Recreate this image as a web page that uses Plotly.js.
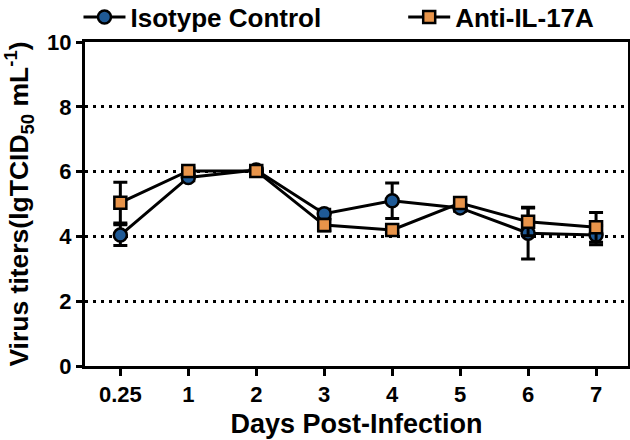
<!DOCTYPE html>
<html>
<head>
<meta charset="utf-8">
<script src="https://cdn.plot.ly/plotly-3.0.1.min.js"></script>
<style>html,body{margin:0;padding:0;background:#fff}#chart{width:630px;height:440px}</style>
</head>
<body>
<div id="chart"></div>
<script>
const days = ["0.25", "1", "2", "3", "4", "5", "6", "7"];
const isotypeMean = [4.04, 5.82, 6.05, 4.70, 5.10, 4.88, 4.10, 4.04];
const isotypeErr  = [0.32, 0.10, 0.06, 0.14, 0.55, 0.10, 0.80, 0.30];
const antiMean    = [5.04, 6.02, 6.02, 4.35, 4.20, 5.03, 4.45, 4.28];
const antiErr     = [0.63, 0.08, 0.06, 0.18, 0.10, 0.12, 0.43, 0.46];
const yTicks = [0, 2, 4, 6, 8, 10];

const fam = "Liberation Sans, Arial, sans-serif";
const tickFont = {family: fam, size: 22, color: "#000", weight: "bold"};
const titleFont = {family: fam, size: 27, color: "#000", weight: "bold"};
const yTitleFont = {family: fam, size: 26.5, color: "#000", weight: "bold"};
const legendFont = {family: fam, size: 26, color: "#000", weight: "bold"};

const traces = [
  {
    x: days, y: isotypeMean, name: "Isotype Control", type: "scatter", mode: "lines+markers",
    legend: "legend",
    line: {color: "#000", width: 3},
    marker: {symbol: "circle", size: 13, color: "#1f5a96", line: {color: "#000", width: 2.5}},
    error_y: {type: "data", array: isotypeErr, visible: true, color: "#000", thickness: 3, width: 7}
  },
  {
    x: days, y: antiMean, name: "Anti-IL-17A", type: "scatter", mode: "lines+markers",
    legend: "legend2",
    line: {color: "#000", width: 3},
    marker: {symbol: "square", size: 12, color: "#e8944a", line: {color: "#000", width: 2.5}},
    error_y: {type: "data", array: antiErr, visible: true, color: "#000", thickness: 3, width: 7}
  }
];

const legendBase = {
  orientation: "h", xanchor: "left", yanchor: "middle", y: 1.077,
  font: legendFont, bgcolor: "rgba(0,0,0,0)", itemwidth: 42
};

const layout = {
  width: 630, height: 440,
  margin: {l: 85, r: 2, t: 42, b: 74, autoexpand: false},
  paper_bgcolor: "#fff", plot_bgcolor: "#fff",
  font: tickFont,
  showlegend: true,
  legend: Object.assign({}, legendBase, {x: -0.012}),
  legend2: Object.assign({}, legendBase, {x: 0.586}),
  xaxis: {
    type: "category", categoryorder: "array", categoryarray: days,
    range: [-0.52, 7.47],
    showline: true, linecolor: "#000", linewidth: 3, mirror: true,
    ticks: "outside", ticklen: 7, tickwidth: 3, tickcolor: "#000",
    tickfont: tickFont, showgrid: false, zeroline: false,
    title: {text: "Days Post-Infection", font: titleFont, standoff: 8}
  },
  yaxis: {
    range: [0, 10], tickvals: yTicks,
    showline: true, linecolor: "#000", linewidth: 3, mirror: true,
    ticks: "outside", ticklen: 6, tickwidth: 3, tickcolor: "#000",
    tickfont: tickFont, zeroline: false,
    showgrid: true, gridcolor: "#000", gridwidth: 3, griddash: "3px,5px",
    title: {text: "Virus titers(lgTCID<sub>50</sub> mL<sup>-1</sup>)", font: yTitleFont, standoff: 12}
  }
};

Plotly.newPlot("chart", traces, layout, {displayModeBar: false, staticPlot: true});
</script>
</body>
</html>
